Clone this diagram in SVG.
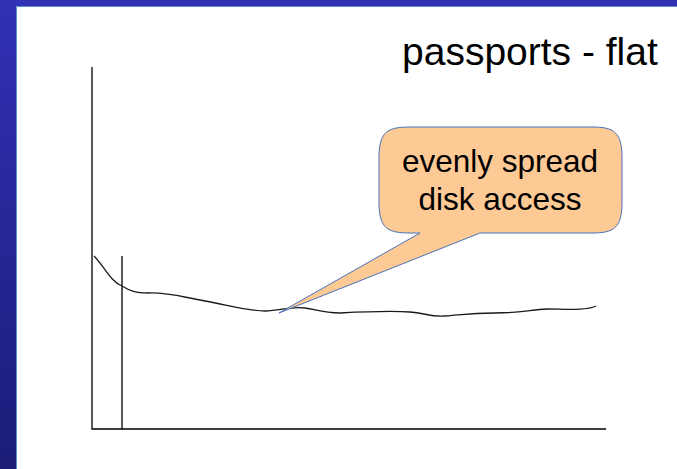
<svg xmlns="http://www.w3.org/2000/svg" width="677" height="469" viewBox="0 0 677 469">
  <defs>
    <linearGradient id="frameGrad" x1="0" y1="0" x2="0" y2="1">
      <stop offset="0" stop-color="#3131b6"/>
      <stop offset="1" stop-color="#1c1c78"/>
    </linearGradient>
  </defs>
  <style>
    .axis { stroke: #000; stroke-width: 1.3; fill: none; }
    .trace { stroke: #1a1a1a; stroke-width: 1.3; fill: none; }
    .callout { fill: #fdc995; stroke: #4a72b8; stroke-width: 1; }
    .title { font-family: "Liberation Sans", Arial, sans-serif; font-size: 39px; fill: #000; }
    .label { font-family: "Liberation Sans", Arial, sans-serif; font-size: 31.5px; fill: #000; text-anchor: middle; }
  </style>

  <!-- page background and slide frame -->
  <rect x="0" y="0" width="677" height="469" fill="#ffffff"/>
  <rect x="0" y="0" width="677" height="6" fill="#3232b4"/>
  <rect x="0" y="0" width="16" height="469" fill="url(#frameGrad)"/>
  <path d="M16.5 469 V6.5 H677" fill="none" stroke="#5a8ad6" stroke-width="1"/>

  <!-- title -->
  <text class="title" x="402" y="65">passports - flat</text>

  <g id="axes">
    <path class="axis" d="M92 67 V429 H606"/>
    <path class="axis" d="M122 256 V429"/>
  </g>

  <g id="connectors">
    <!-- measured access curve -->
    <path class="trace" d="M94 256 C104 266 110 281 122 286 C130 291 136 293 148 293 C168 292 182 297 205 301 C228 305 248 311 265 311 C280 311 290 306 305 308 C315 309 322 313 340 313 C360 312 395 311 410 312 C425 313 430 317 445 316 C460 315 470 313 495 313 C520 313 530 310 547 309 C565 309 585 311 596 306"/>
  </g>

  <g id="callout">
    <path class="callout" d="M410 127 H592 C614 127 622 132 622 158 V202 C622 228 614 233 592 233 H480 L279 313 L420 233 H410 C387 233 379 228 379 202 V158 C379 132 387 127 410 127 Z"/>
    <text class="label" x="500" y="172">evenly spread</text>
    <text class="label" x="500" y="210">disk access</text>
  </g>
</svg>
